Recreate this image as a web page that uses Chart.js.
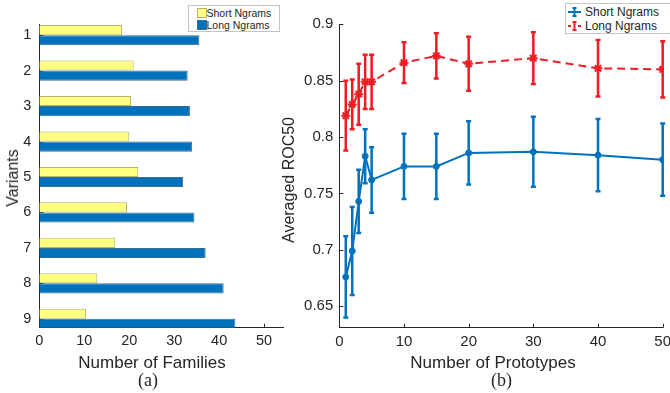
<!DOCTYPE html>
<html>
<head>
<meta charset="utf-8">
<script src="https://cdn.jsdelivr.net/npm/chart.js@4.4.0/dist/chart.umd.min.js"></script>
<style>
  html, body { margin: 0; padding: 0; background: #fff; overflow: hidden; }
  #wrap { position: relative; width: 670px; height: 393px; overflow: hidden;
          font-family: "Liberation Sans", Arial, sans-serif; color: #262626; }
  canvas { position: absolute; top: 0; }
  #barCanvas { left: 0; }
  #lineCanvas { left: 270px; }
  .lbl { position: absolute; white-space: nowrap; line-height: 1; transform: translate(-50%, -50%); }
  .ylbl { transform: translate(-50%, -50%) rotate(-90deg); }
  .cap { font-family: "Liberation Serif", "Times New Roman", serif; font-size: 18px; }
  .legend { position: absolute; background: #fff; border: 1px solid #c4c4c4; }
  .legend span { position: absolute; white-space: nowrap; line-height: 1; transform: translateY(-50%); }
  .legend svg, .legend i { position: absolute; }
</style>
</head>
<body>
<div id="wrap">
  <canvas id="barCanvas" width="300" height="393"></canvas>
  <canvas id="lineCanvas" width="400" height="393"></canvas>

  <div class="lbl ylbl" style="left:12.5px; top:178px; font-size:16px;">Variants</div>
  <div class="lbl" style="left:152px; top:362px; font-size:17px;">Number of Families</div>
  <div class="lbl cap" style="left:148px; top:380px;">(a)</div>

  <div class="lbl ylbl" style="left:288.5px; top:180px; font-size:16px;">Averaged ROC50</div>
  <div class="lbl" style="left:493px; top:362px; font-size:17px;">Number of Prototypes</div>
  <div class="lbl cap" style="left:501.5px; top:380px;">(b)</div>

  <div class="legend" style="left:187.5px; top:5px; width:90px; height:25px; font-size:10.5px;">
    <i style="left:8px; top:1.5px; width:8px; height:8px; background:#ffff80; border:1px solid #b4b46e;"></i>
    <i style="left:8px; top:13.5px; width:8px; height:8px; background:#0072bd; border:1px solid #3a6c92;"></i>
    <span style="left:18px; top:6.5px;">Short Ngrams</span>
    <span style="left:18px; top:19px;">Long Ngrams</span>
  </div>

  <div class="legend" style="left:565px; top:3px; width:120px; height:29px; font-size:12px;">
    <svg width="16" height="28" style="left:1px; top:0;">
      <g stroke="#0072bd" stroke-width="2">
        <line x1="1" y1="8" x2="14" y2="8"/>
        <line x1="7.5" y1="4" x2="7.5" y2="12"/>
        <line x1="5.5" y1="4" x2="9.5" y2="4"/>
        <line x1="5.5" y1="12" x2="9.5" y2="12"/>
      </g>
      <g stroke="#ee1d23" stroke-width="2">
        <line x1="1" y1="22" x2="4" y2="22"/>
        <line x1="11" y1="22" x2="14" y2="22"/>
        <line x1="7.5" y1="18" x2="7.5" y2="26"/>
        <line x1="5.5" y1="18" x2="9.5" y2="18"/>
        <line x1="5.5" y1="26" x2="9.5" y2="26"/>
      </g>
    </svg>
    <span style="left:19px; top:8px;">Short Ngrams</span>
    <span style="left:19px; top:22px;">Long Ngrams</span>
  </div>
</div>

<script>
// (a) families per variant
const variants = [1, 2, 3, 4, 5, 6, 7, 8, 9];
const shortFamilies = [18.4, 21.0, 20.4, 20.0, 22.0, 19.5, 16.9, 12.9, 10.4];
const longFamilies = [35.6, 33.0, 33.5, 34.0, 32.0, 34.5, 37.0, 41.0, 43.6];
const familyTicks = [0, 10, 20, 30, 40, 50];

// (b) ROC50 vs number of prototypes
const prototypes = [1, 2, 3, 4, 5, 10, 15, 20, 30, 40, 50];
const shortRoc = [0.676, 0.699, 0.743, 0.783, 0.762, 0.774, 0.774, 0.786, 0.787, 0.784, 0.780];
const shortErr = [0.036, 0.039, 0.028, 0.024, 0.029, 0.029, 0.029, 0.028, 0.031, 0.032, 0.032];
const longRoc = [0.819, 0.829, 0.838, 0.849, 0.849, 0.866, 0.872, 0.865, 0.870, 0.861, 0.860];
const longErr = [0.031, 0.022, 0.027, 0.024, 0.024, 0.018, 0.020, 0.024, 0.023, 0.025, 0.025];
const prototypeTicks = [0, 10, 20, 30, 40, 50];
const rocTicks = [0.65, 0.7, 0.75, 0.8, 0.85, 0.9];

const axisColor = "#262626";
const blue = "#0072bd";
const red = "#ee1d23";

// fixed box size for an axis so the plot area lands where it should
function fixSize(size) {
    return function (scale) {
        if (scale.isHorizontal()) scale.height = size;
        else scale.width = size;
        scale.paddingLeft = scale.paddingRight = 0;
        scale.paddingTop = scale.paddingBottom = 0;
    };
}

function setTicks(values) {
    return function (scale) {
        scale.ticks = values.map(v => ({ value: v }));
    };
}

// matlab style ticks pointing into the plot
const innerTicks = {
    id: "innerTicks",
    beforeDatasetsDraw(chart) {
        let ctx = chart.ctx;
        let a = chart.chartArea;
        let xs = chart.scales.x;
        let ys = chart.scales.y;
        ctx.save();
        ctx.strokeStyle = axisColor;
        ctx.lineWidth = 1;
        ctx.beginPath();
        xs.ticks.forEach(t => {
            let px = Math.round(xs.getPixelForValue(t.value)) + 0.5;
            ctx.moveTo(px, a.bottom);
            ctx.lineTo(px, a.bottom - 4);
        });
        ys.ticks.forEach(t => {
            let py = Math.round(ys.getPixelForValue(t.value)) + 0.5;
            ctx.moveTo(a.left, py);
            ctx.lineTo(a.left + 4, py);
        });
        ctx.stroke();
        ctx.restore();
    }
};

const errorBars = {
    id: "errorBars",
    beforeDatasetsDraw(chart) {
        let ctx = chart.ctx;
        let xs = chart.scales.x;
        let ys = chart.scales.y;
        chart.data.datasets.forEach(ds => {
            if (!ds.errors) return;
            ctx.save();
            ctx.strokeStyle = ds.borderColor;
            ctx.lineWidth = 2.5;
            ctx.beginPath();
            ds.data.forEach((p, i) => {
                let x = xs.getPixelForValue(p.x);
                let top = ys.getPixelForValue(p.y + ds.errors[i]);
                let bot = ys.getPixelForValue(p.y - ds.errors[i]);
                ctx.moveTo(x, top);
                ctx.lineTo(x, bot);
                ctx.moveTo(x - 2.5, top);
                ctx.lineTo(x + 2.5, top);
                ctx.moveTo(x - 2.5, bot);
                ctx.lineTo(x + 2.5, bot);
            });
            ctx.stroke();
            ctx.restore();
        });
    }
};

const baseFont = { family: "'Liberation Sans', Arial, sans-serif" };

new Chart(document.getElementById("barCanvas"), {
    type: "bar",
    data: {
        datasets: [
            {
                label: "Short Ngrams",
                data: variants.map((v, i) => ({ x: shortFamilies[i], y: v })),
                backgroundColor: "#ffff80",
                borderColor: "#b4b46e",
                borderWidth: 1
            },
            {
                label: "Long Ngrams",
                data: variants.map((v, i) => ({ x: longFamilies[i], y: v })),
                backgroundColor: blue,
                borderColor: "#3a6c92",
                borderWidth: 1
            }
        ]
    },
    options: {
        indexAxis: "y",
        responsive: false,
        animation: false,
        devicePixelRatio: 1,
        categoryPercentage: 0.57,
        barPercentage: 1,
        layout: { padding: { left: 0, top: 24.5, right: 17, bottom: 0 } },
        plugins: { legend: { display: false }, tooltip: { enabled: false } },
        scales: {
            x: {
                type: "linear",
                min: 0,
                max: 54.2,
                afterBuildTicks: setTicks(familyTicks),
                afterFit: fixSize(65.3),
                grid: { display: false, drawTicks: false },
                border: { color: axisColor, width: 1 },
                ticks: { padding: 5, color: axisColor, font: { ...baseFont, size: 14.5 } }
            },
            y: {
                type: "linear",
                reverse: true,
                offset: false,
                min: 0.7,
                max: 9.25,
                afterBuildTicks: setTicks(variants),
                afterFit: fixSize(39.3),
                grid: { display: false, drawTicks: false, offset: false },
                border: { color: axisColor, width: 1 },
                ticks: { padding: 8, color: axisColor, font: { ...baseFont, size: 14.5 } }
            }
        }
    },
    plugins: [innerTicks]
});

new Chart(document.getElementById("lineCanvas"), {
    type: "line",
    data: {
        datasets: [
            {
                label: "Short Ngrams",
                data: prototypes.map((p, i) => ({ x: p, y: shortRoc[i] })),
                errors: shortErr,
                borderColor: blue,
                backgroundColor: blue,
                borderWidth: 2,
                pointStyle: "circle",
                pointRadius: 3,
                pointBorderWidth: 1,
                tension: 0
            },
            {
                label: "Long Ngrams",
                data: prototypes.map((p, i) => ({ x: p, y: longRoc[i] })),
                errors: longErr,
                borderColor: red,
                backgroundColor: red,
                borderWidth: 2,
                borderDash: [8, 5],
                pointStyle: "star",
                pointRadius: 4.5,
                pointBorderWidth: 2,
                tension: 0
            }
        ]
    },
    options: {
        responsive: false,
        animation: false,
        devicePixelRatio: 1,
        layout: { padding: { left: 0, top: 24.3, right: 7.3, bottom: 0 } },
        plugins: { legend: { display: false }, tooltip: { enabled: false } },
        scales: {
            x: {
                type: "linear",
                min: 0,
                max: 50,
                afterBuildTicks: setTicks(prototypeTicks),
                afterFit: fixSize(65.3),
                grid: { display: false, drawTicks: false },
                border: { color: axisColor, width: 1 },
                ticks: { padding: 5, color: axisColor, font: { ...baseFont, size: 15 } }
            },
            y: {
                type: "linear",
                min: 0.631,
                max: 0.9,
                afterBuildTicks: setTicks(rocTicks),
                afterFit: fixSize(69.3),
                grid: { display: false, drawTicks: false },
                border: { color: axisColor, width: 1 },
                ticks: {
                    padding: 6,
                    color: axisColor,
                    font: { ...baseFont, size: 15 },
                    callback: v => String(+v.toFixed(2))
                }
            }
        }
    },
    plugins: [innerTicks, errorBars]
});
</script>
</body>
</html>
